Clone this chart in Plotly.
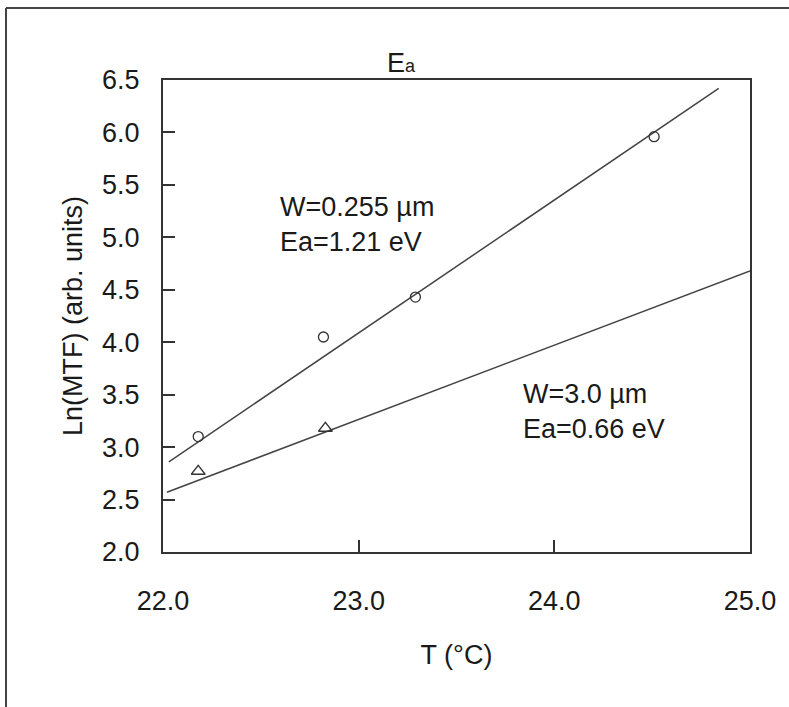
import plotly.graph_objects as go

# ---- data ----
circ_T = [22.18, 22.82, 23.29, 24.51]
circ_ln = [3.10, 4.05, 4.43, 5.96]
tri_T = [22.18, 22.83]
tri_ln = [2.77, 3.18]

fit1_T = [22.03, 24.84]
fit1_ln = [2.86, 6.42]
fit2_T = [22.02, 25.0]
fit2_ln = [2.57, 4.68]

x_ticks = [22.0, 23.0, 24.0, 25.0]
y_ticks = [2.0, 2.5, 3.0, 3.5, 4.0, 4.5, 5.0, 5.5, 6.0, 6.5]

label1 = "W=0.255 µm<br>Ea=1.21 eV"
label2 = "W=3.0 µm<br>Ea=0.66 eV"
label1_pos = (22.59, 5.12)
label2_pos = (23.83, 3.34)

FONT = "Liberation Sans, Arial, sans-serif"
DARK = "#333333"
TXT = "#1a1a1a"
W, H = 789, 707
ML, MR, MT, MB = 163, 39, 80, 155

fig = go.Figure()
fig.add_trace(go.Scatter(x=fit1_T, y=fit1_ln, mode="lines",
                         line=dict(color="#444444", width=1.5), showlegend=False))
fig.add_trace(go.Scatter(x=fit2_T, y=fit2_ln, mode="lines",
                         line=dict(color="#444444", width=1.5), showlegend=False))
fig.add_trace(go.Scatter(x=circ_T, y=circ_ln, mode="markers",
                         marker=dict(symbol="circle-open", size=10, color=DARK,
                                     line=dict(width=1.3)), showlegend=False))
fig.add_trace(go.Scatter(x=tri_T, y=tri_ln, mode="markers",
                         marker=dict(symbol="triangle-up-open", size=12, color=DARK,
                                     line=dict(width=1.3)), showlegend=False))

for txt, (ax, ay) in [(label1, label1_pos), (label2, label2_pos)]:
    fig.add_annotation(x=ax, y=ay, text=txt, showarrow=False, xanchor="left",
                       yanchor="middle", align="left",
                       font=dict(family=FONT, size=27, color=TXT))

# outer frame (left and top edges visible)
pw = W - ML - MR
ph = H - MT - MB
fx = (6 - ML) / pw
fy = (H - MB - 8) / ph
fig.add_shape(type="line", xref="paper", yref="paper", x0=fx, x1=fx, y0=fy, y1=-1,
              line=dict(color="#444444", width=2))
fig.add_shape(type="line", xref="paper", yref="paper", x0=fx, x1=2, y0=fy, y1=fy,
              line=dict(color="#444444", width=2))

axis_common = dict(showline=True, linecolor=DARK, linewidth=2, mirror=True,
                   ticks="inside", ticklen=12, tickwidth=1.5, tickcolor=DARK,
                   showgrid=False, zeroline=False,
                   tickfont=dict(family=FONT, size=27, color=TXT))

fig.update_xaxes(range=[22.0, 25.0], tickvals=x_ticks,
                 ticktext=[f"{v:.1f}" for v in x_ticks], ticklabelstandoff=24,
                 title=dict(text="T (°C)", font=dict(family=FONT, size=27, color=TXT),
                            standoff=30),
                 **axis_common)
fig.update_yaxes(range=[2.0, 6.5], tickvals=y_ticks,
                 ticktext=[f"{v:.1f}" for v in y_ticks], ticklabelstandoff=16,
                 title=dict(text="Ln(MTF) (arb. units)",
                            font=dict(family=FONT, size=27, color=TXT), standoff=12),
                 **axis_common)

fig.update_layout(
    width=W, height=H,
    margin=dict(l=ML, r=MR, t=MT, b=MB),
    paper_bgcolor="white", plot_bgcolor="white",
    title=dict(text='E<span style="font-size:18px">a</span>',
               x=(401 - ML) / pw, xref="paper", xanchor="center",
               y=1 - 63 / H, yanchor="middle",
               font=dict(family=FONT, size=27, color=TXT)),
)

fig.write_html("out.html")
